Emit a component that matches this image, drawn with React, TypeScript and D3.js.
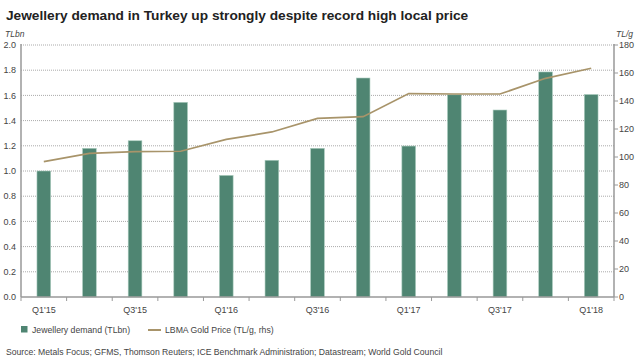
import React, { useEffect, useRef } from 'react';
import * as d3 from 'd3';

// Data
const quarters = ["Q1'15", "Q2'15", "Q3'15", "Q4'15", "Q1'16", "Q2'16", "Q3'16", "Q4'16", "Q1'17", "Q2'17", "Q3'17", "Q4'17", "Q1'18"];
const demand = [1.0, 1.18, 1.24, 1.545, 0.965, 1.085, 1.18, 1.738, 1.198, 1.605, 1.484, 1.786, 1.607];
const goldPrice = [96.7, 102.6, 103.8, 104.1, 112.6, 117.9, 127.6, 128.8, 145.3, 145.0, 145.0, 156.2, 163.4];
const leftTicks = [0, 0.2, 0.4, 0.6, 0.8, 1.0, 1.2, 1.4, 1.6, 1.8, 2.0];
const rightTicks = [0, 20, 40, 60, 80, 100, 120, 140, 160, 180];

const barColor = '#4f8572';
const lineColor = '#a8946a';
const font = '"Liberation Sans", Arial, sans-serif';

export default function App() {
    const ref = useRef<SVGSVGElement>(null);

    useEffect(() => {
        const svg = d3.select(ref.current);
        svg.selectAll('*').remove();

        const width = 640;
        const height = 362;
        const left = 21;
        const right = 614;
        const top = 45;
        const bottom = 297;

        // Scales
        const x = d3.scaleBand().domain(quarters).range([left, right]).paddingInner(0.7).paddingOuter(0.35);
        const xb = d3.scaleBand().domain(quarters).range([left, right]);
        const y = d3.scaleLinear().domain([0, 2]).range([bottom, top]);
        const y2 = d3.scaleLinear().domain([0, 180]).range([bottom, top]);

        svg.attr('width', width).attr('height', height);
        svg.append('rect').attr('width', width).attr('height', height).attr('fill', '#fff');

        // Title
        svg.append('text')
            .attr('x', 6).attr('y', 20)
            .style('font-family', font).style('font-size', '13.7px').style('font-weight', 'bold')
            .attr('fill', '#222')
            .text('Jewellery demand in Turkey up strongly despite record high local price');

        // Units
        svg.append('text').attr('x', 5).attr('y', 37)
            .style('font-family', font).style('font-size', '8.5px').style('font-style', 'italic')
            .attr('fill', '#444').text('TLbn');
        svg.append('text').attr('x', 633).attr('y', 37).attr('text-anchor', 'end')
            .style('font-family', font).style('font-size', '8.5px').style('font-style', 'italic')
            .attr('fill', '#444').text('TL/g');

        // Gridlines
        svg.append('g').selectAll('line')
            .data(leftTicks.filter(d => d > 0))
            .enter().append('line')
            .attr('x1', left).attr('x2', right)
            .attr('y1', d => y(d)).attr('y2', d => y(d))
            .attr('stroke', '#aaa').attr('stroke-width', 1)
            .attr('stroke-dasharray', '1,1');

        // Left tick labels
        svg.append('g').selectAll('text')
            .data(leftTicks)
            .enter().append('text')
            .attr('x', 16).attr('y', d => y(d)).attr('dy', '0.35em')
            .attr('text-anchor', 'end')
            .style('font-family', font).style('font-size', '9px')
            .attr('fill', '#444')
            .text(d => d.toFixed(1));

        // Right axis
        const rAxis = svg.append('g');
        rAxis.append('line').attr('x1', right).attr('x2', right).attr('y1', top - 1).attr('y2', bottom)
            .attr('stroke', '#999').attr('stroke-width', 1.5);
        rAxis.selectAll('line.t').data(rightTicks).enter().append('line')
            .attr('class', 't')
            .attr('x1', right).attr('x2', right + 4)
            .attr('y1', d => y2(d)).attr('y2', d => y2(d))
            .attr('stroke', '#999');
        rAxis.selectAll('text').data(rightTicks).enter().append('text')
            .attr('x', 619).attr('y', d => y2(d)).attr('dy', '0.35em')
            .style('font-family', font).style('font-size', '9px')
            .attr('fill', '#444')
            .text(d => d);

        // Bars
        svg.append('g').selectAll('rect')
            .data(demand)
            .enter().append('rect')
            .attr('x', (d, i) => x(quarters[i]) as number)
            .attr('width', x.bandwidth())
            .attr('y', d => y(d))
            .attr('height', d => bottom - y(d))
            .attr('fill', barColor)
            .attr('stroke', '#a9cbbd').attr('stroke-width', 0.6);

        // Line
        const line = d3.line<number>()
            .x((d, i) => (xb(quarters[i]) as number) + xb.bandwidth() / 2)
            .y(d => y2(d));
        svg.append('path')
            .datum(goldPrice)
            .attr('d', line)
            .attr('fill', 'none')
            .attr('stroke', lineColor)
            .attr('stroke-width', 1.7);

        // Left axis & bottom axis
        svg.append('line').attr('x1', left).attr('x2', left).attr('y1', top - 1).attr('y2', bottom)
            .attr('stroke', '#999').attr('stroke-width', 1.5);
        svg.append('line').attr('x1', left).attr('x2', right).attr('y1', bottom).attr('y2', bottom)
            .attr('stroke', '#999').attr('stroke-width', 1.5);
        svg.append('g').selectAll('line')
            .data(d3.range(quarters.length + 1))
            .enter().append('line')
            .attr('x1', i => left + i * xb.step()).attr('x2', i => left + i * xb.step())
            .attr('y1', bottom).attr('y2', bottom + 4)
            .attr('stroke', '#999');
        svg.append('g').selectAll('text')
            .data(quarters.filter((q, i) => i % 2 === 0))
            .enter().append('text')
            .attr('x', d => (xb(d) as number) + xb.bandwidth() / 2)
            .attr('y', 313)
            .attr('text-anchor', 'middle')
            .style('font-family', font).style('font-size', '9px')
            .attr('fill', '#444')
            .text(d => d);

        // Legend
        svg.append('rect').attr('x', 21).attr('y', 326).attr('width', 6.5).attr('height', 6.5).attr('fill', barColor);
        svg.append('text').attr('x', 32).attr('y', 333)
            .style('font-family', font).style('font-size', '8.7px').attr('fill', '#444')
            .text('Jewellery demand (TLbn)');
        svg.append('line').attr('x1', 148).attr('x2', 161).attr('y1', 330).attr('y2', 330)
            .attr('stroke', lineColor).attr('stroke-width', 2);
        svg.append('text').attr('x', 165).attr('y', 333)
            .style('font-family', font).style('font-size', '8.7px').attr('fill', '#444')
            .text('LBMA Gold Price (TL/g, rhs)');

        // Source
        svg.append('text').attr('x', 6).attr('y', 355)
            .style('font-family', font).style('font-size', '8.65px').attr('fill', '#444')
            .text('Source: Metals Focus; GFMS, Thomson Reuters; ICE Benchmark Administration; Datastream; World Gold Council');
    }, []);

    return (
        <div style={{ position: 'absolute', left: 0, top: 0 }}>
            <svg ref={ref} style={{ display: 'block' }}></svg>
        </div>
    );
}
